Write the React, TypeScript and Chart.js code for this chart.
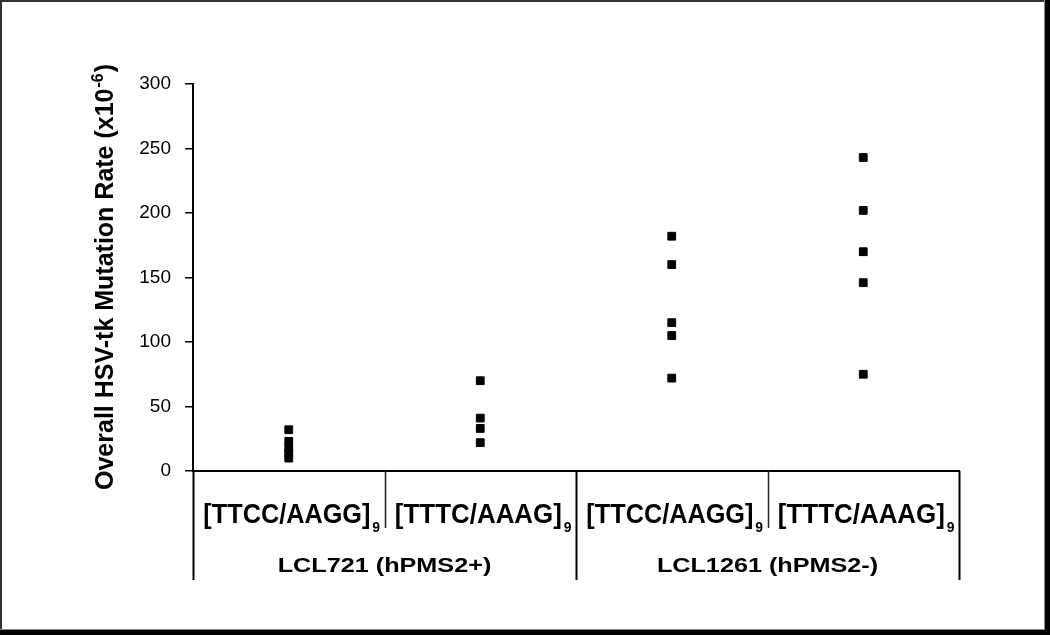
import React, { useEffect, useRef } from "react";
import { Chart, registerables } from "chart.js";

Chart.register(...registerables);

// ---- data ----
const categories = ["[TTCC/AAGG]", "[TTTC/AAAG]", "[TTCC/AAGG]", "[TTTC/AAAG]"];
const categorySubscript = "9";
const groups = ["LCL721 (hPMS2+)", "LCL1261 (hPMS2-)"];
const lcl721TTCC = [32, 23, 18, 14, 10];
const lcl721TTTC = [70, 41, 33, 22];
const lcl1261TTCC = [182, 160, 115, 105, 72];
const lcl1261TTTC = [243, 202, 170, 146, 75];
const seriesValues = [lcl721TTCC, lcl721TTTC, lcl1261TTCC, lcl1261TTTC];
const yTicks = [0, 50, 100, 150, 200, 250, 300];
const yTitleMain = "Overall HSV-tk Mutation Rate (x10";
const yTitleSup = "-6";
const yTitleEnd = ")";

const W = 1050;
const H = 635;
const FONT = "'Liberation Sans', Arial, Helvetica, sans-serif";

function drawScaledText(
  ctx: CanvasRenderingContext2D,
  text: string,
  x: number,
  y: number,
  sx: number
) {
  ctx.save();
  ctx.translate(x, y);
  ctx.scale(sx, 1);
  ctx.fillText(text, 0, 0);
  ctx.restore();
}

const decorPlugin = {
  id: "decor",
  afterDraw(chart: any) {
    const ctx: CanvasRenderingContext2D = chart.ctx;
    const ca = chart.chartArea;
    const xs = chart.scales.x;
    ctx.save();

    // outer frame
    ctx.fillStyle = "#333";
    ctx.fillRect(0, 0, W, 2);
    ctx.fillRect(0, 0, 2, H);
    ctx.fillStyle = "#888";
    ctx.fillRect(W - 6, 0, 1, H);
    ctx.fillRect(0, H - 6, W, 1);
    ctx.fillStyle = "#000";
    ctx.fillRect(W - 5, 0, 5, H);
    ctx.fillRect(0, H - 5, W, 5);

    // category divider lines below the axis
    ctx.strokeStyle = "#000";
    for (let i = 0; i <= categories.length; i++) {
      const px = Math.round(xs.getPixelForValue(i)) + 0.5;
      const major = i % 2 === 0;
      ctx.lineWidth = major ? 2 : 1.5;
      ctx.strokeStyle = major ? "#000" : "#222";
      ctx.beginPath();
      ctx.moveTo(px, ca.bottom);
      ctx.lineTo(px, major ? 580 : 528);
      ctx.stroke();
    }

    // category labels with subscript
    ctx.fillStyle = "#000";
    ctx.textBaseline = "alphabetic";
    ctx.textAlign = "left";
    const catFont = `bold 27px ${FONT}`;
    const subFont = `bold 14px ${FONT}`;
    const catWidthTarget = 167;
    categories.forEach((label, i) => {
      ctx.font = catFont;
      const w = ctx.measureText(label).width;
      const sx = catWidthTarget / w;
      ctx.font = subFont;
      const ws = ctx.measureText(categorySubscript).width;
      const total = catWidthTarget + 2 + ws;
      const cx = xs.getPixelForValue(i + 0.5);
      const left = cx - total / 2 + 3;
      ctx.font = catFont;
      drawScaledText(ctx, label, left, 523, sx);
      ctx.font = subFont;
      ctx.fillText(categorySubscript, left + catWidthTarget + 2, 532);
    });

    // group labels
    const grpFont = `bold 21px ${FONT}`;
    groups.forEach((label, g) => {
      ctx.font = grpFont;
      const w = ctx.measureText(label).width;
      const sx = 1.2;
      const cx = xs.getPixelForValue(g * 2 + 1);
      drawScaledText(ctx, label, cx - (w * sx) / 2, 572, sx);
    });

    // y axis title (rotated) with superscript
    ctx.save();
    ctx.translate(113, 490);
    ctx.rotate(-Math.PI / 2);
    ctx.font = `bold 25px ${FONT}`;
    ctx.fillText(yTitleMain, 0, 0);
    const wm = ctx.measureText(yTitleMain).width;
    ctx.font = `bold 16px ${FONT}`;
    ctx.fillText(yTitleSup, wm + 1, -10);
    const wsup = ctx.measureText(yTitleSup).width;
    ctx.font = `bold 25px ${FONT}`;
    ctx.fillText(yTitleEnd, wm + wsup + 2, 0);
    ctx.restore();

    ctx.restore();
  },
};

export default function App() {
  const canvasRef = useRef<HTMLCanvasElement | null>(null);

  useEffect(() => {
    if (!canvasRef.current) return;
    const datasets = seriesValues.map((vals, i) => ({
      label: categories[i],
      data: vals.map((v) => ({ x: i + 0.5, y: v })),
      pointStyle: "rect",
      pointRadius: 5.5,
      pointBorderWidth: 1,
      pointBackgroundColor: "#000",
      pointBorderColor: "#000",
      showLine: false,
    }));

    const chart = new Chart(canvasRef.current, {
      type: "scatter",
      data: { datasets },
      options: {
        animation: false,
        responsive: false,
        maintainAspectRatio: false,
        layout: { padding: { left: 113, right: 91, top: 84, bottom: 164 } },
        plugins: {
          legend: { display: false },
          tooltip: { enabled: false },
        },
        scales: {
          x: {
            type: "linear",
            min: 0,
            max: categories.length,
            ticks: { display: false },
            grid: { display: false, drawTicks: false },
            border: { display: true, color: "#000", width: 2 },
            afterFit: (s: any) => {
              s.height = 0;
            },
          },
          y: {
            min: yTicks[0],
            max: yTicks[yTicks.length - 1],
            afterBuildTicks: (s: any) => {
              s.ticks = yTicks.map((v) => ({ value: v }));
            },
            ticks: {
              color: "#000",
              padding: 14,
              font: { family: FONT, size: 19 },
            },
            grid: {
              drawOnChartArea: false,
              drawTicks: true,
              tickLength: 8,
              color: "#000",
              lineWidth: 1.5,
            },
            border: { display: true, color: "#000", width: 2 },
            afterFit: (s: any) => {
              s.width = 80;
            },
          },
        },
      },
      plugins: [decorPlugin],
    } as any);

    return () => chart.destroy();
  }, []);

  return (
    <div
      style={{
        position: "fixed",
        left: 0,
        top: 0,
        width: W,
        height: H,
        background: "#fff",
      }}
    >
      <canvas
        ref={canvasRef}
        width={W}
        height={H}
        style={{ width: W, height: H, display: "block" }}
      />
    </div>
  );
}
